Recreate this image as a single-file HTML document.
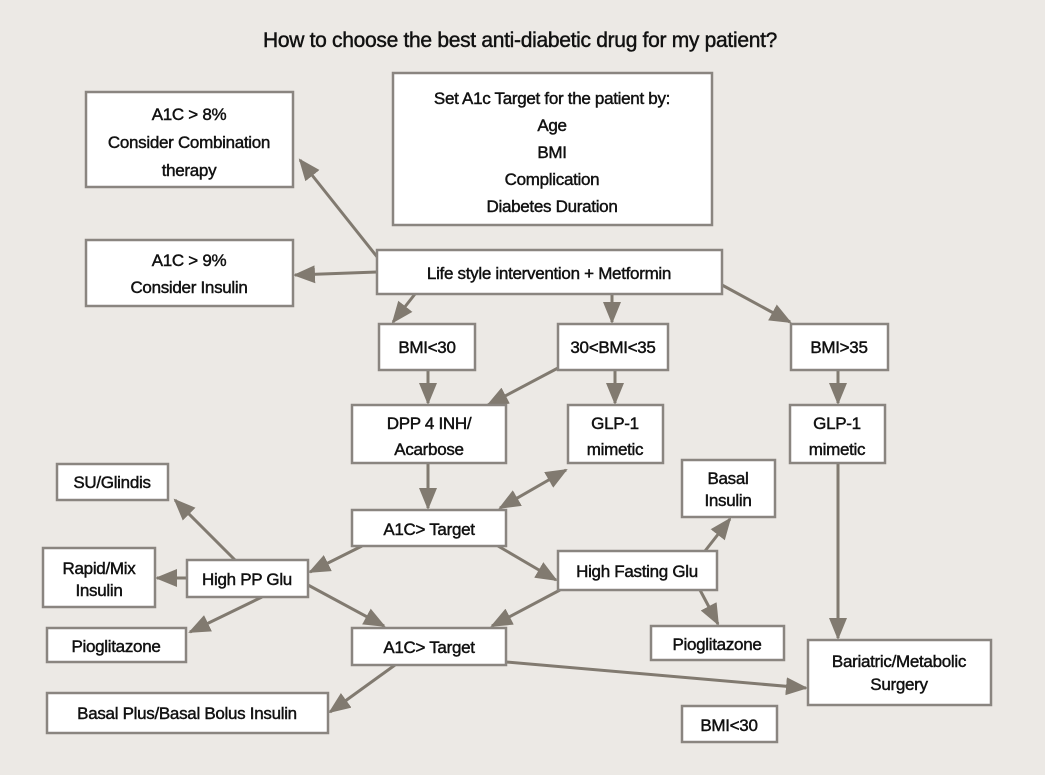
<!DOCTYPE html>
<html><head><meta charset="utf-8"><style>
html,body{margin:0;padding:0;background:#ece9e5;}
svg{display:block}
text{font-family:"Liberation Sans",sans-serif;font-size:17px;fill:#111;stroke:#111;stroke-width:0.45;text-anchor:middle;letter-spacing:-0.3px}
rect{fill:#fff;stroke:#8a8580;stroke-width:2.5}
line{stroke:#817a70;stroke-width:3}
</style></head><body>
<svg width="1045" height="775" viewBox="0 0 1045 775">
<defs>
<marker id="b" markerWidth="22" markerHeight="18" refX="20" refY="9" orient="auto" markerUnits="userSpaceOnUse"><path d="M0,0 L22,9 L0,18z" fill="#817a70"/></marker>
<marker id="s" markerWidth="22" markerHeight="18" refX="2" refY="9" orient="auto" markerUnits="userSpaceOnUse"><path d="M22,0 L0,9 L22,18z" fill="#817a70"/></marker></defs>
<rect x="0" y="0" width="1045" height="775" style="fill:#ece9e5;stroke:none"/>
<text x="520" y="47" style="font-size:21px">How to choose the best anti-diabetic drug for my patient?</text>
<g marker-end="url(#b)">
<line x1="378" y1="258" x2="300" y2="160"/>
<line x1="377" y1="272" x2="295" y2="275"/>
<line x1="415" y1="294" x2="393" y2="322"/>
<line x1="612" y1="294" x2="612" y2="322"/>
<line x1="722" y1="285" x2="790" y2="322"/>
<line x1="428" y1="370" x2="428" y2="403"/>
<line x1="558" y1="368" x2="488" y2="405"/>
<line x1="615" y1="370" x2="615" y2="403"/>
<line x1="838" y1="370" x2="838" y2="403"/>
<line x1="428" y1="463" x2="428" y2="508"/>
<line x1="566" y1="470" x2="500" y2="508" marker-start="url(#s)"/>
<line x1="838" y1="463" x2="838" y2="638"/>
<line x1="362" y1="546" x2="310" y2="572"/>
<line x1="498" y1="546" x2="556" y2="580"/>
<line x1="235" y1="560" x2="175" y2="500"/>
<line x1="187" y1="578" x2="157" y2="578"/>
<line x1="262" y1="597" x2="190" y2="632"/>
<line x1="308" y1="585" x2="384" y2="626"/>
<line x1="560" y1="590" x2="492" y2="626"/>
<line x1="705" y1="551" x2="730" y2="519"/>
<line x1="700" y1="590" x2="718" y2="624"/>
<line x1="395" y1="665" x2="330" y2="712"/>
<line x1="506" y1="662" x2="806" y2="688"/>
</g>
<rect x="393" y="73" width="319" height="152"/>
<text x="552" y="104">Set A1c Target for the patient by:</text>
<text x="552" y="131">Age</text><text x="552" y="158">BMI</text><text x="552" y="185">Complication</text><text x="552" y="212">Diabetes Duration</text>
<rect x="86" y="92" width="207" height="95"/>
<text x="189" y="120">A1C &gt; 8%</text><text x="189" y="148">Consider Combination</text><text x="189" y="176">therapy</text>
<rect x="86" y="240" width="207" height="66"/>
<text x="189" y="266">A1C &gt; 9%</text><text x="189" y="293">Consider Insulin</text>
<rect x="377" y="250" width="345" height="44"/><text x="549" y="279">Life style intervention + Metformin</text>
<rect x="379" y="324" width="96" height="46"/><text x="427" y="353">BMI&lt;30</text>
<rect x="558" y="324" width="110" height="46"/><text x="613" y="353">30&lt;BMI&lt;35</text>
<rect x="791" y="324" width="97" height="46"/><text x="839" y="353">BMI&gt;35</text>
<rect x="352" y="405" width="154" height="58"/><text x="429" y="429">DPP 4 INH/</text><text x="429" y="455">Acarbose</text>
<rect x="568" y="405" width="95" height="58"/><text x="615" y="429">GLP-1</text><text x="615" y="455">mimetic</text>
<rect x="790" y="405" width="95" height="58"/><text x="837" y="429">GLP-1</text><text x="837" y="455">mimetic</text>
<rect x="57" y="464" width="111" height="36"/><text x="112" y="488">SU/Glindis</text>
<rect x="682" y="460" width="93" height="57"/><text x="728" y="484">Basal</text><text x="728" y="506">Insulin</text>
<rect x="352" y="510" width="154" height="36"/><text x="429" y="535">A1C&gt; Target</text>
<rect x="43" y="548" width="112" height="59"/><text x="99" y="574">Rapid/Mix</text><text x="99" y="596">Insulin</text>
<rect x="187" y="560" width="121" height="37"/><text x="247" y="585">High PP Glu</text>
<rect x="558" y="551" width="159" height="39"/><text x="637" y="577">High Fasting Glu</text>
<rect x="47" y="628" width="139" height="34"/><text x="116" y="652">Pioglitazone</text>
<rect x="352" y="628" width="154" height="37"/><text x="429" y="653">A1C&gt; Target</text>
<rect x="651" y="626" width="133" height="34"/><text x="717" y="650">Pioglitazone</text>
<rect x="808" y="640" width="183" height="65"/><text x="899" y="667">Bariatric/Metabolic</text><text x="899" y="690">Surgery</text>
<rect x="47" y="693" width="281" height="40"/><text x="187" y="719">Basal Plus/Basal Bolus Insulin</text>
<rect x="682" y="706" width="95" height="36"/><text x="729" y="731">BMI&lt;30</text>
</svg>
</body></html>
